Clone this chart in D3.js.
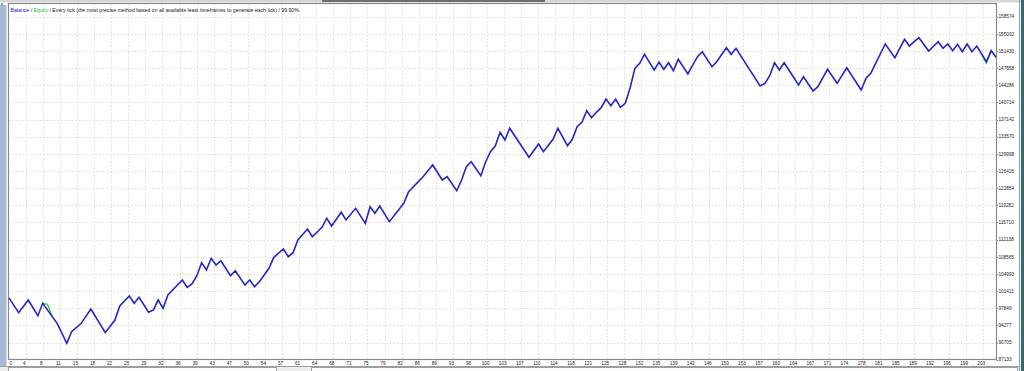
<!DOCTYPE html>
<html>
<head>
<meta charset="utf-8">
<script src="https://cdn.jsdelivr.net/npm/d3@7"></script>
<style>
  html, body { margin: 0; padding: 0; background: #fff; overflow: hidden; }
</style>
</head>
<body>
<div id="chart"></div>
<script>
// balance curve, one vertex per turning point (trade number -> balance)
const tradeNo = [0, 2, 4, 6, 7, 10, 12, 13, 15, 17, 20, 22, 23, 25, 26, 27, 29, 30, 31, 32,
  33, 36, 37, 38, 39, 40, 41, 42, 43, 44, 46, 47, 49, 50, 51, 52, 54, 55, 57, 58,
  59, 60, 62, 63, 65, 66, 67, 69, 70, 72, 74, 75, 76, 77, 79, 82, 83, 86, 88, 90,
  91, 93, 94, 95, 96, 98, 99, 100, 101, 102, 103, 104, 108, 110, 111, 113, 114, 116, 117, 118,
  119, 120, 121, 122, 123, 124, 125, 126, 127, 128, 129, 130, 131, 132, 134, 135, 136, 137, 138, 139,
  141, 142, 143, 144, 146, 147, 149, 150, 151, 156, 157, 158, 159, 160, 161, 164, 165, 167, 168, 170,
  172, 174, 177, 178, 179, 180, 182, 184, 186, 187, 188, 189, 191, 193, 194, 195, 196, 197, 198, 199,
  200, 201, 203, 204, 205]
const balance = [100000, 96920, 99570, 96300, 98880, 94710, 90550, 92970, 94710, 97690, 92760, 95400, 98320, 100400, 98880, 100130, 97010, 97490, 99570, 97840,
  100610, 103730, 102210, 102900, 104570, 107340, 105820, 108250, 106860, 107750, 104630, 105670, 102690, 103730, 102340, 103380, 106170, 108460, 110190, 108590,
  109420, 112060, 114360, 112750, 114710, 116580, 114980, 117830, 116230, 118670, 115540, 119000, 117630, 119150, 115880, 119710, 122120, 125250, 127690, 124560,
  125250, 122330, 124560, 127330, 128370, 125460, 128370, 130460, 131640, 134500, 132890, 135330, 129290, 132060, 130460, 133040, 135330, 131710, 133040, 135660,
  136580, 139000, 137540, 138660, 139620, 141430, 140040, 141370, 139700, 140540, 143720, 147830, 148870, 150740, 147470, 149080, 147620, 148990, 147330, 149700,
  146640, 148510, 150240, 151280, 148160, 149200, 152120, 150740, 151990, 144140, 144700, 146290, 148990, 147470, 148990, 144350, 146080, 143100, 143990, 147620,
  144700, 147950, 143310, 145740, 146780, 148870, 152890, 150030, 153870, 152470, 153370, 154200, 151430, 153370, 151990, 152890, 151490, 152830, 151280, 152890,
  151280, 152470, 149200, 151490, 150120]

// equity only shows where it leaves the balance line
const equityTrades = [[7, 8, 9], [30, 31], [202, 203, 204]]
const equityValues = [[98880, 98670, 96100], [97490, 99800], [150830, 148900, 151490]]

const yTickLabels = [87133, 90705, 94277, 97849, 101421, 104993, 108565, 112138, 115710, 119282,
  122854, 126426, 129998, 133570, 137142, 140714, 144286, 147858, 151430, 155002, 158574]
const xTickLabels = [0, 4, 8, 11, 15, 18, 22, 25, 29, 32, 36, 39, 43, 47, 50, 54, 57, 61, 64, 68,
  71, 75, 79, 82, 86, 89, 93, 96, 100, 103, 107, 110, 114, 118, 121, 125, 128, 132, 135, 139,
  142, 146, 150, 153, 157, 160, 164, 167, 171, 174, 178, 181, 185, 189, 192, 196, 199, 203]

const width = 1024
const height = 371
const plotLeft = 8.5
const plotRight = 996.5
const plotTop = 3.5
const plotBottom = 359.5
const font = 'Liberation Sans, Arial, sans-serif'
const fontSize = 4.7

const svg = d3.select('#chart')
  .append('svg')
  .attr('width', width)
  .attr('height', height)
  .style('display', 'block')

// window chrome around the tester graph
svg.append('rect').attr('x', 0).attr('y', 0).attr('width', width).attr('height', height).attr('fill', '#ffffff')
svg.append('rect').attr('x', 0).attr('y', 0).attr('width', width).attr('height', 2.5).attr('fill', '#d6d6d6')
svg.append('rect').attr('x', 322).attr('y', 0).attr('width', 223).attr('height', 2).attr('fill', '#6e6e6e')
svg.append('rect').attr('x', 0).attr('y', 5).attr('width', 6.5).attr('height', 361).attr('fill', '#a8bbd5')
svg.append('text').attr('x', 0.5).attr('y', 6).attr('font-family', font).attr('font-size', 5)
  .attr('fill', '#333').text('×')
svg.append('rect').attr('x', 0).attr('y', 366.5).attr('width', width).attr('height', 4.5).attr('fill', '#ededed')
svg.append('line').attr('x1', 0).attr('x2', 1020).attr('y1', 366.5).attr('y2', 366.5)
  .attr('stroke', '#9a9a9a').attr('stroke-width', 1)
svg.append('rect').attr('x', 8.5).attr('y', 367.5).attr('width', 268).attr('height', 5)
  .attr('fill', '#fafafa').attr('stroke', '#a0a0a0').attr('stroke-width', 1)
svg.append('rect').attr('x', 311.5).attr('y', 367.5).attr('width', 706).attr('height', 5)
  .attr('fill', '#fafafa').attr('stroke', '#a0a0a0').attr('stroke-width', 1)
svg.append('line').attr('x1', 1019.5).attr('x2', 1019.5).attr('y1', 0).attr('y2', height)
  .attr('stroke', '#9a9a9a').attr('stroke-width', 1)
svg.append('rect').attr('x', 1021).attr('y', 0).attr('width', 3).attr('height', height).attr('fill', '#2e6b69')

const x = d3.scaleLinear().domain([0, 205]).range([9, 996])
const y = d3.scaleLinear().domain([87133, 158574]).range([359.7, 16.7])
const xGrid = d3.scalePoint().domain(xTickLabels).range([8.6, 8.6 + 17.09 * (xTickLabels.length - 1)])

// dotted grid
svg.selectAll('line.hgrid')
  .data(yTickLabels.slice(1))
  .enter()
  .append('line')
  .attr('class', 'hgrid')
  .attr('x1', plotLeft)
  .attr('x2', plotRight)
  .attr('y1', d => Math.round(y(d)) + 0.5)
  .attr('y2', d => Math.round(y(d)) + 0.5)
  .attr('stroke', '#dcdcdc')
  .attr('stroke-width', 1)
  .attr('stroke-dasharray', '1.5,2')

svg.selectAll('line.vgrid')
  .data(xTickLabels.slice(1))
  .enter()
  .append('line')
  .attr('class', 'vgrid')
  .attr('x1', d => Math.round(xGrid(d)) + 0.5)
  .attr('x2', d => Math.round(xGrid(d)) + 0.5)
  .attr('y1', plotTop)
  .attr('y2', plotBottom)
  .attr('stroke', '#dcdcdc')
  .attr('stroke-width', 1)
  .attr('stroke-dasharray', '1.5,2')

// frame
svg.append('rect')
  .attr('x', plotLeft)
  .attr('y', plotTop)
  .attr('width', plotRight - plotLeft)
  .attr('height', plotBottom - plotTop)
  .attr('fill', 'none')
  .attr('stroke', '#8a8a8a')
  .attr('stroke-width', 1.2)

// axis labels
svg.selectAll('text.ylab')
  .data(yTickLabels)
  .enter()
  .append('text')
  .attr('class', 'ylab')
  .attr('x', 998.5)
  .attr('y', d => y(d) + 1.7)
  .attr('font-family', font)
  .attr('font-size', fontSize)
  .attr('fill', '#222')
  .text(d => d)

svg.selectAll('line.ytick')
  .data(yTickLabels)
  .enter()
  .append('line')
  .attr('class', 'ytick')
  .attr('x1', plotRight)
  .attr('x2', plotRight + 1.5)
  .attr('y1', d => Math.round(y(d)) + 0.5)
  .attr('y2', d => Math.round(y(d)) + 0.5)
  .attr('stroke', '#8a8a8a')

svg.selectAll('text.xlab')
  .data(xTickLabels)
  .enter()
  .append('text')
  .attr('class', 'xlab')
  .attr('x', d => Math.max(xGrid(d) - 1.5, 10.8))
  .attr('y', 364.7)
  .attr('text-anchor', 'middle')
  .attr('font-family', font)
  .attr('font-size', fontSize)
  .attr('fill', '#222')
  .text(d => d)

// header line
const head = svg.append('text')
  .attr('x', 10.5)
  .attr('y', 12)
  .attr('font-family', font)
  .attr('font-size', 5.2)
  .attr('fill', '#222')
head.append('tspan').attr('fill', '#2020d0').text('Balance')
head.append('tspan').text(' / ')
head.append('tspan').attr('fill', '#1fbf1f').text('Equity')
head.append('tspan').text(' / Every tick (the most precise method based on all available least timeframes to generate each tick) / 99.90%')

// equity then balance on top
const line = d3.line()
  .x(d => x(d[0]))
  .y(d => y(d[1]))

equityTrades.forEach((tr, i) => {
  svg.append('path')
    .datum(d3.zip(tr, equityValues[i]))
    .attr('d', line)
    .attr('fill', 'none')
    .attr('stroke', '#33cc33')
    .attr('stroke-width', 1.3)
})

svg.append('path')
  .datum(d3.zip(tradeNo, balance))
  .attr('d', line)
  .attr('fill', 'none')
  .attr('stroke', '#2626c4')
  .attr('stroke-width', 1.6)
  .attr('stroke-linejoin', 'miter')
</script>
</body>
</html>
